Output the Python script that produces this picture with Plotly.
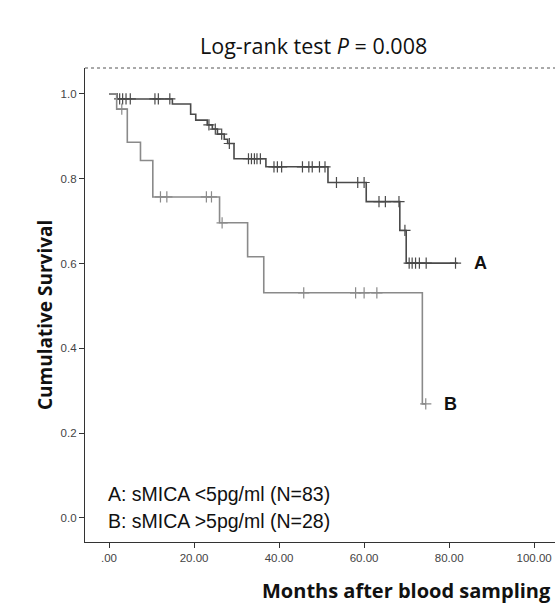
import numpy as np
import plotly.graph_objects as go

# Kaplan-Meier step data (time in months, cumulative survival after the step)
a_times = [0, 1.9, 14.9, 19.2, 20.4, 23.1, 24.3, 25.5, 27.1, 27.9, 29.4, 36.9, 51.5, 60.5, 68.4, 69.9, 82.0]
a_surv = [1.0, 0.988, 0.976, 0.952, 0.938, 0.927, 0.917, 0.905, 0.893, 0.883, 0.847, 0.828, 0.791, 0.746, 0.678, 0.601, 0.601]
a_censor = [2.5, 3.2, 4.0, 5.0, 10.8, 11.6, 14.3, 23.5, 25.0, 26.5, 28.3, 32.8, 33.5, 34.2, 34.8, 35.6,
            38.8, 39.6, 40.6, 45.5, 47.0, 47.8, 49.5, 50.8, 53.5, 58.5, 60.0, 63.5, 65.0, 68.2, 69.6,
            70.6, 71.3, 72.1, 73.0, 74.6, 81.5]

b_times = [0, 1.8, 4.3, 7.4, 10.3, 26.0, 32.6, 36.4, 73.7, 74.5]
b_surv = [1.0, 0.964, 0.886, 0.843, 0.757, 0.696, 0.616, 0.531, 0.269, 0.269]
b_censor = [3.0, 12.1, 13.6, 22.9, 24.1, 26.6, 45.8, 58.0, 60.0, 63.0, 74.5]

x_ticks = [0, 20, 40, 60, 80, 100]
x_labels = [".00", "20.00", "40.00", "60.00", "80.00", "100.00"]
y_ticks = [0.0, 0.2, 0.4, 0.6, 0.8, 1.0]
y_labels = ["0.0", "0.2", "0.4", "0.6", "0.8", "1.0"]

legend_lines = ["A: sMICA &lt;5pg/ml (N=83)", "B: sMICA &gt;5pg/ml (N=28)"]


def step_value(times, surv, t):
    idx = np.searchsorted(np.array(times), t, side="right") - 1
    return surv[max(idx, 0)]


col_a = "#4a4a4a"
col_b = "#8a8a8a"

fig = go.Figure()
for times, surv, cens, col in [(a_times, a_surv, a_censor, col_a), (b_times, b_surv, b_censor, col_b)]:
    fig.add_trace(go.Scatter(x=times, y=surv, mode="lines", line=dict(shape="hv", color=col, width=1.6),
                             showlegend=False, hoverinfo="skip"))
    fig.add_trace(go.Scatter(x=cens, y=[step_value(times, surv, c) for c in cens], mode="markers",
                             marker=dict(symbol="cross-thin-open", size=8, color=col,
                                         line=dict(color=col, width=1.2)),
                             showlegend=False, hoverinfo="skip"))

tickfont = dict(size=11.5, color="#444", family="Liberation Sans, Arial")
fig.update_layout(
    width=555, height=604,
    margin=dict(l=85, r=0, t=68, b=62),
    paper_bgcolor="white", plot_bgcolor="white",
    showlegend=False,
    font=dict(family="Liberation Sans, Arial", color="#222"),
    xaxis=dict(range=[-5.65, 104.9], tickvals=x_ticks, ticktext=x_labels, showgrid=False, zeroline=False,
               showline=True, linecolor="#333", linewidth=1.2, ticks="outside", ticklen=5, tickcolor="#333",
               tickfont=tickfont),
    yaxis=dict(range=[-0.0566, 1.061], tickvals=y_ticks, ticktext=y_labels, showgrid=False, zeroline=False,
               showline=True, linecolor="#333", linewidth=1.2, ticks="outside", ticklen=5, tickcolor="#333",
               tickfont=tickfont),
)

# dotted top border of the frame
fig.add_shape(type="line", xref="paper", yref="paper", x0=0, x1=1, y0=1, y1=1,
              line=dict(color="#555", width=1, dash="dot"))

# title
fig.add_annotation(text="Log-rank test <i>P</i> = 0.008", xref="paper", yref="paper",
                   x=(313 - 85) / 470, y=(542 - 45) / 474, showarrow=False,
                   font=dict(family="Open Sans", size=21.5, color="#111"), xanchor="center", yanchor="middle")
# axis titles
fig.add_annotation(text="<b>Cumulative Survival</b>", xref="paper", yref="paper",
                   x=(45 - 85) / 470, y=(542 - 315) / 474, textangle=-90, showarrow=False,
                   font=dict(family="Open Sans", size=19, color="#111"), xanchor="center", yanchor="middle")
fig.add_annotation(text="<b>Months after blood sampling</b>", xref="paper", yref="paper",
                   x=(406 - 85) / 470, y=(542 - 590) / 474, showarrow=False,
                   font=dict(family="Open Sans", size=20, color="#111"), xanchor="center", yanchor="middle")
# legend text
for i, txt in enumerate(legend_lines):
    fig.add_annotation(text=txt, xref="paper", yref="paper",
                       x=(106 - 85) / 470, y=(542 - (494 + 27 * i)) / 474, showarrow=False,
                       font=dict(family="Liberation Sans, Arial", size=19.5, color="#111"),
                       xanchor="left", yanchor="middle")
# curve labels
fig.add_annotation(text="<b>A</b>", x=a_times[-1] + 3.3, y=a_surv[-1], showarrow=False, xanchor="left",
                   font=dict(family="Liberation Sans, Arial", size=18, color="#111"))
fig.add_annotation(text="<b>B</b>", x=b_times[-1] + 3.8, y=b_surv[-1], showarrow=False, xanchor="left",
                   font=dict(family="Liberation Sans, Arial", size=18, color="#111"))

fig.write_html("out.html", config={"displayModeBar": False},
               post_script="document.body.style.margin='0';document.body.style.overflow='hidden';")
